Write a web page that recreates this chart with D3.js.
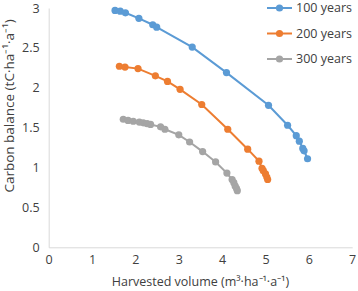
<!DOCTYPE html>
<html><head><meta charset="utf-8">
<script src="https://cdn.jsdelivr.net/npm/d3@7"></script>
<style>body{margin:0;background:#fff}svg{display:block}text{font-family:"Open Sans",sans-serif;fill:#404040}</style>
</head><body>
<script>
const seriesNames = ["100 years", "200 years", "300 years"];
const seriesColors = ["#5B9BD5", "#ED7D31", "#A5A5A5"];
const x100 = [1.53,1.65,1.77,2.08,2.40,2.49,3.31,4.10,5.07,5.51,5.71,5.78,5.86,5.89,5.97];
const y100 = [2.97,2.96,2.94,2.87,2.79,2.76,2.51,2.19,1.78,1.53,1.40,1.33,1.24,1.21,1.11];
const x200 = [1.63,1.76,2.06,2.46,2.74,3.03,3.53,4.13,4.59,4.85,4.92,4.95,5.00,5.03,5.05];
const y200 = [2.27,2.26,2.24,2.15,2.08,1.98,1.79,1.48,1.23,1.08,0.99,0.96,0.92,0.88,0.85];
const x300 = [1.72,1.83,1.95,2.09,2.18,2.27,2.35,2.58,2.68,3.00,3.25,3.55,3.85,4.11,4.23,4.27,4.30,4.33,4.35];
const y300 = [1.605,1.59,1.58,1.57,1.56,1.55,1.54,1.51,1.48,1.41,1.32,1.20,1.07,0.93,0.85,0.81,0.77,0.74,0.71];
const xTicks = [0,1,2,3,4,5,6,7];
const yTicks = [0,0.5,1,1.5,2,2.5,3];

const W = 358, H = 291;
const svg = d3.select("body").append("svg").attr("width", W).attr("height", H);
const x = d3.scaleLinear().domain([0,7]).range([48.7,352.2]);
const y = d3.scaleLinear().domain([0,3]).range([247.3,8]);

const xAxis = svg.append("g").attr("transform", `translate(0,${y(0)})`)
  .call(d3.axisBottom(x).tickValues(xTicks).tickSize(0).tickPadding(8).tickFormat(d3.format("d")));
const yAxis = svg.append("g").attr("transform", `translate(${x(0)},0)`)
  .call(d3.axisLeft(y).tickValues(yTicks).tickSize(0).tickPadding(9).tickFormat(d => String(d)));
[xAxis, yAxis].forEach(g => {
  g.select(".domain").attr("stroke", "#D9D9D9").attr("stroke-width", 1);
  g.selectAll("text").style("font-family", '"Open Sans",sans-serif').style("font-size", "12.5px").attr("fill", "#404040");
});

const series = [[x100,y100],[x200,y200],[x300,y300]];
const line = d3.line().x(d => x(d[0])).y(d => y(d[1]));
series.forEach((s, i) => {
  const pts = s[0].map((v, j) => [v, s[1][j]]);
  svg.append("path").datum(pts).attr("d", line).attr("fill", "none")
    .attr("stroke", seriesColors[i]).attr("stroke-width", 2);
  svg.append("g").selectAll("circle").data(pts).join("circle")
    .attr("cx", d => x(d[0])).attr("cy", d => y(d[1])).attr("r", 3.6)
    .attr("fill", seriesColors[i]);
});

const leg = svg.append("g");
seriesNames.forEach((n, i) => {
  const ly = 8 + i * 25.5;
  leg.append("line").attr("x1", 267).attr("x2", 292).attr("y1", ly).attr("y2", ly)
    .attr("stroke", seriesColors[i]).attr("stroke-width", 2);
  leg.append("circle").attr("cx", 279.5).attr("cy", ly).attr("r", 3.6).attr("fill", seriesColors[i]);
  leg.append("text").attr("x", 296).attr("y", ly).attr("dy", "0.35em")
    .style("font-size", "12.5px").text(n);
});

svg.append("text").attr("x", (x(0)+x(7))/2).attr("y", 286).attr("text-anchor", "middle")
  .style("font-size", "12.5px").text("Harvested volume  (m³·ha⁻¹·a⁻¹)");
svg.append("text").attr("transform", "translate(14,106) rotate(-90)").attr("text-anchor", "middle")
  .style("font-size", "13.5px").text("Carbon balance (tC·ha⁻¹·a⁻¹)");
</script>
</body></html>
